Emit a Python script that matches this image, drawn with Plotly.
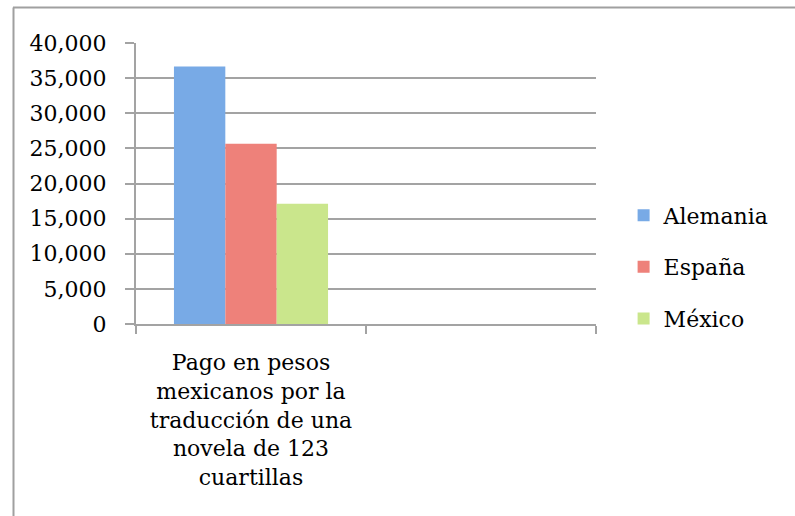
import plotly.graph_objects as go

categories = ["Pago en pesos<br>mexicanos por la<br>traducción de una<br>novela de 123<br>cuartillas"]
series_names = ["Alemania", "España", "México"]
values = {
    "Alemania": [36650],
    "España": [25650],
    "México": [17100],
}
colors = {
    "Alemania": "#78aae6",
    "España": "#ee817a",
    "México": "#cae68c",
}
y_ticks = [0, 5000, 10000, 15000, 20000, 25000, 30000, 35000, 40000]

FONT = "DejaVu Serif"
GRID = "#a3a3a3"

fig = go.Figure()
for name in series_names:
    fig.add_trace(go.Bar(
        x=[0], y=values[name], name=name,
        marker=dict(color=colors[name], line=dict(width=0)),
        legendgroup=name,
    ))

fig.update_layout(
    width=795, height=516,
    margin=dict(l=136, r=199, t=43, b=192),
    paper_bgcolor="white", plot_bgcolor="white",
    font=dict(family=FONT, size=22, color="#000000"),
    barmode="group", bargap=0.33, bargroupgap=0,
    showlegend=True,
    legend=dict(x=1.06, y=0.203, xanchor="left", yanchor="middle",
                font=dict(family=FONT, size=22), tracegroupgap=20,
                itemwidth=30, bgcolor="rgba(0,0,0,0)"),
    xaxis=dict(
        range=[-0.5, 1.5], tickmode="array", tickvals=[0], ticktext=categories,
        ticks="", showgrid=False, zeroline=False,
        showline=True, linecolor=GRID, linewidth=2,
        ticklabelstandoff=18,
        minor=dict(tickmode="array", tickvals=[-0.5, 0.5, 1.5], ticks="outside",
                   ticklen=8, tickwidth=2, tickcolor=GRID, showgrid=False),
        fixedrange=True,
    ),
    yaxis=dict(
        range=[0, 40000], tickmode="array", tickvals=y_ticks, tickformat=",",
        ticks="outside", ticklen=9, tickwidth=2, tickcolor=GRID,
        showgrid=True, gridcolor=GRID, gridwidth=2,
        showline=True, linecolor=GRID, linewidth=2, zeroline=False,
        ticklabelstandoff=14,
        fixedrange=True,
    ),
    shapes=[
        dict(type="line", xref="paper", yref="paper",
             x0=(13 - 136) / 460, x1=(800 - 136) / 460,
             y0=1 + (43 - 7.5) / 281, y1=1 + (43 - 7.5) / 281,
             line=dict(color="#a0a0a0", width=2)),
        dict(type="line", xref="paper", yref="paper",
             x0=(13.5 - 136) / 460, x1=(13.5 - 136) / 460,
             y0=1 + (43 - 7.5) / 281, y1=-1,
             line=dict(color="#a0a0a0", width=2)),
    ],
)

fig.write_html("out.html")
